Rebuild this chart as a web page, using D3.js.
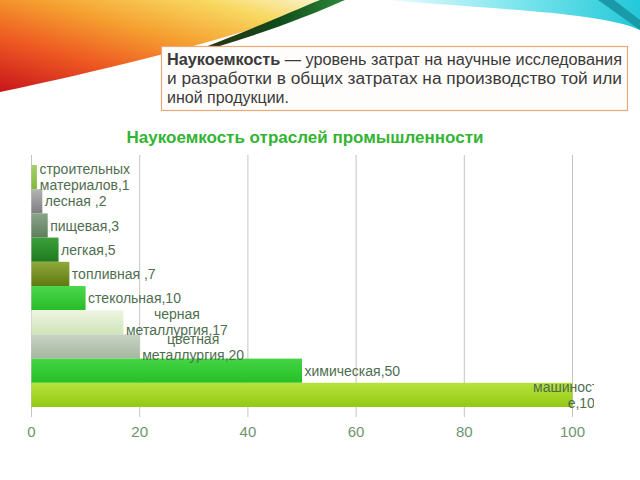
<!DOCTYPE html>
<html><head><meta charset="utf-8">
<script src="https://cdn.jsdelivr.net/npm/d3@7"></script>
<style>
html,body{margin:0;padding:0;background:#fff;}
svg{display:block;font-family:"Liberation Sans",Arial,sans-serif;}
</style></head>
<body>
<svg id="c" width="640" height="480"></svg>
<script>
// ---- data ----
const categories = ["строительных\nматериалов", "лесная ", "пищевая", "легкая", "топливная ", "стекольная", "черная\nметаллургия", "цветная\nметаллургия", "химическая", "машиностроени\nе"];
const values = [1, 2, 3, 5, 7, 10, 17, 20, 50, 100];
const xTicks = [0, 20, 40, 60, 80, 100];
const chartTitle = "Наукоемкость отраслей промышленности";
const noteLines = [
  {bold: "Наукоемкость", rest: " — уровень затрат на научные исследования", justify: true},
  {bold: "", rest: "и разработки в общих затратах на производство той или", justify: true},
  {bold: "", rest: "иной продукции.", justify: false}
];
// styles
const barColors = [
  ["#a6cf6a", "#80b83e"], ["#b4b4b4", "#7e7e7e"], ["#8aa48a", "#5d7d5d"], ["#3aa03a", "#1f7a1f"],
  ["#8fa83a", "#5f7a12"], ["#4cd84c", "#28bc28"], ["#eef6e2", "#cfe4b8"], ["#c8d4c4", "#a4b6a0"],
  ["#44d444", "#26c026"], ["#b6e23c", "#94c814"]
];

const svg = d3.select("#c");
const defs = svg.append("defs");

// ---- background decoration ----
const warm = defs.append("linearGradient").attr("id", "warm")
  .attr("x1", "1").attr("y1", "0").attr("x2", "0").attr("y2", "1");
[[0, "#fbf6d8"], [0.2, "#f8d860"], [0.45, "#f5a030"], [0.7, "#ee5a22"], [1, "#c8141c"]]
  .forEach(s => warm.append("stop").attr("offset", s[0]).attr("stop-color", s[1]));
svg.append("path").attr("d", "M0,0 L335,0 C260,30 150,60 0,92 Z").attr("fill", "url(#warm)");
const dg = defs.append("linearGradient").attr("id", "dg").attr("x1", "0").attr("x2", "1");
[[0, "#3a2a10"], [0.6, "#0f4a1a"], [1, "#2e8a3a"]].forEach(s => dg.append("stop").attr("offset", s[0]).attr("stop-color", s[1]));
svg.append("path").attr("d", "M175,58 C240,35 290,12 320,0 L345,0 C300,20 240,42 175,58 Z").attr("fill", "url(#dg)");
const cy = defs.append("linearGradient").attr("id", "cy").attr("x1", "0").attr("x2", "1");
[[0, "#e8fbfc"], [0.5, "#7ee6ee"], [1, "#22c8d8"]].forEach(s => cy.append("stop").attr("offset", s[0]).attr("stop-color", s[1]));
svg.append("path").attr("d", "M390,0 L640,0 L640,30 C600,12 500,10 390,0 Z").attr("fill", "url(#cy)");
svg.append("path").attr("d", "M598,0 L614,0 L640,20 L640,30 Z").attr("fill", "#1a9aa8");

// ---- note box ----
svg.append("rect").attr("x", 161.5).attr("y", 46.5).attr("width", 466).attr("height", 64)
  .attr("fill", "#fffdfb").attr("stroke", "#e8a878").attr("stroke-width", 1.2);
noteLines.forEach((ln, i) => {
  const t = svg.append("text").attr("x", 167).attr("y", 65 + i * 19)
    .attr("font-size", 16).attr("fill", "#3a3a3a");
  if (ln.justify) t.attr("textLength", 455).attr("lengthAdjust", "spacingAndGlyphs");
  if (ln.bold) t.append("tspan").attr("font-weight", "bold").text(ln.bold);
  t.append("tspan").text(ln.rest);
});

// ---- chart ----
const x = d3.scaleLinear().domain([0, 100]).range([31, 572]);
const y = d3.scaleBand().domain(categories).range([165, 407]).padding(0);

svg.append("text").attr("x", 305).attr("y", 143).attr("text-anchor", "middle")
  .attr("font-size", 17).attr("font-weight", "bold").attr("fill", "#33b433").text(chartTitle);

// gridlines
svg.append("g").selectAll("line").data(xTicks).join("line")
  .attr("x1", d => x(d) + 0.5).attr("x2", d => x(d) + 0.5)
  .attr("y1", 155).attr("y2", 417)
  .attr("stroke", "#c4c4c4").attr("stroke-width", 1);

// tick labels via axis
const axis = svg.append("g").attr("transform", "translate(0,417)")
  .call(d3.axisBottom(x).tickValues(xTicks).tickSize(0).tickPadding(9));
axis.select(".domain").remove();
axis.selectAll("text").attr("font-size", 15).attr("fill", "#6e946e")
  .attr("font-family", "Liberation Sans, Arial, sans-serif");

// gradients for bars
barColors.forEach((c, i) => {
  const g = defs.append("linearGradient").attr("id", "b" + i)
    .attr("x1", "0").attr("y1", "0").attr("x2", "0").attr("y2", "1");
  g.append("stop").attr("offset", 0).attr("stop-color", c[0]);
  g.append("stop").attr("offset", 1).attr("stop-color", c[1]);
});

svg.append("g").selectAll("rect").data(values).join("rect")
  .attr("x", x(0) + 0.5)
  .attr("y", (d, i) => y(categories[i]))
  .attr("width", d => x(d) - x(0))
  .attr("height", y.bandwidth())
  .attr("fill", (d, i) => "url(#b" + i + ")");

// labels
defs.append("clipPath").attr("id", "lc").append("rect")
  .attr("x", 0).attr("y", 140).attr("width", 594).attr("height", 300);
const lg = svg.append("g").attr("clip-path", "url(#lc)");
values.forEach((v, i) => {
  const lines = (categories[i] + "," + v).split("\n");
  const cyv = y(categories[i]) + y.bandwidth() / 2;
  const t = lg.append("text").attr("font-size", 14).attr("fill", "#4f6e4f");
  const spans = lines.map((s, k) => t.append("tspan")
    .attr("y", cyv + (k - (lines.length - 1) / 2) * 16)
    .attr("dy", "0.36em").text(s));
  const widths = spans.map(s => s.node().getComputedTextLength());
  const bw = d3.max(widths);
  const start = Math.min(x(v) + 3, x(100) - 39);
  spans.forEach((s, k) => s.attr("x", start + (bw - widths[k]) / 2));
});
</script>
</body></html>
